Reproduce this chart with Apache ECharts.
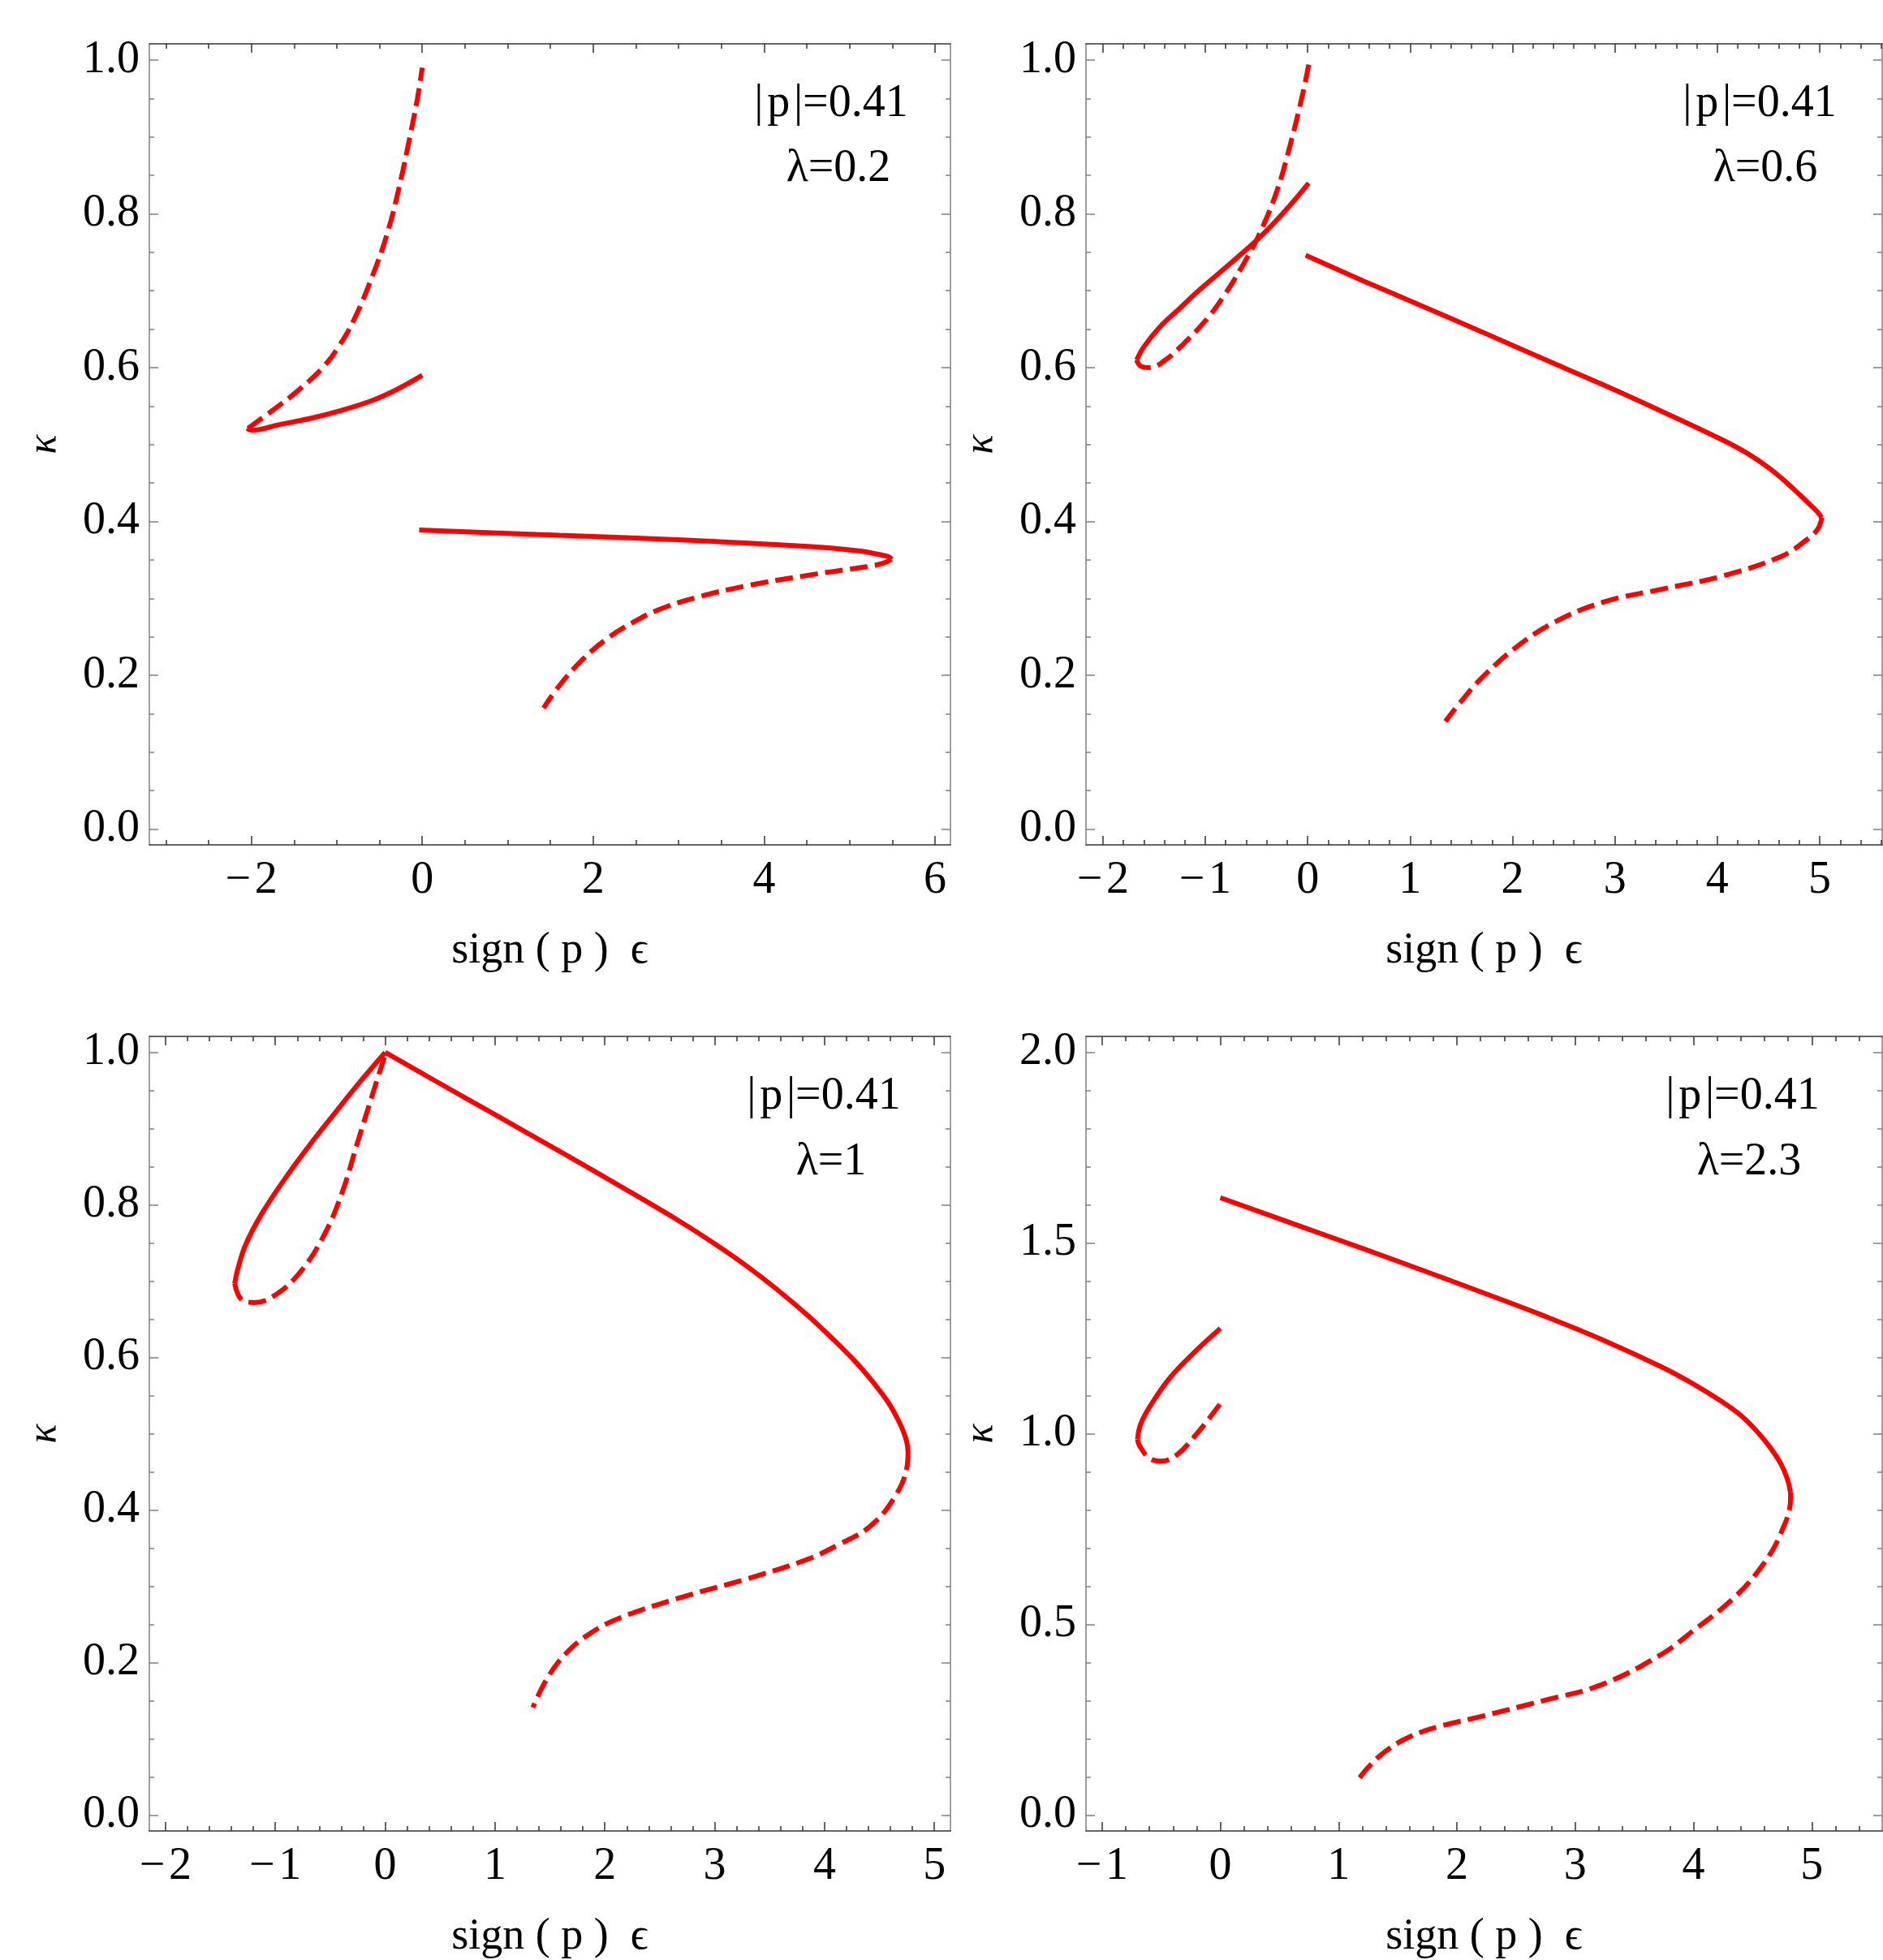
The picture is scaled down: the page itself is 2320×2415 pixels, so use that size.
<!DOCTYPE html>
<html>
<head>
<meta charset="utf-8">
<script src="https://cdn.jsdelivr.net/npm/echarts@6/dist/echarts.min.js"></script>
<style>
html, body { margin: 0; padding: 0; background: #fff; overflow: hidden; }
#chart { position: absolute; left: 0; top: 0; width: 2320px; height: 2415px; }
</style>
</head>
<body>
<div id="chart"></div>
<script>
// kappa vs sign(p) eps, |p| = 0.41, four values of lambda
// solid = one branch, dashed = the other

// lambda = 0.2
const l02SolidUp = [[-2.05,0.521],[-2.0,0.5186],[-1.67,0.526],[-1.31,0.534],[-0.945,0.5445],[-0.58,0.5575],[-0.29,0.572],[0,0.59]];
const l02DashUp = [[-2.04,0.521],[-1.745,0.545],[-1.455,0.57],[-1.164,0.6],[-0.98,0.627],[-0.8,0.662],[-0.58,0.72],[-0.4,0.778],[-0.255,0.842],[-0.145,0.9],[-0.058,0.949],[0.0,0.99]];
const l02SolidLow = [[-0.036,0.389],[1.6,0.382],[3.05,0.376],[4.51,0.3675],[5.09,0.362],[5.35,0.357],[5.46,0.354],[5.49,0.351]];
const l02DashLow = [[5.49,0.351],[5.4,0.346],[5.24,0.342],[5.0,0.338],[4.51,0.33],[3.78,0.316],[3.2,0.301],[2.76,0.285],[2.47,0.269],[2.18,0.249],[1.89,0.222],[1.6,0.186],[1.42,0.1575]];

// lambda = 0.6
const l06SolidUp = [[-1.67,0.61],[-1.6,0.627],[-1.45,0.652],[-1.25,0.677],[-1.04,0.703],[-0.75,0.736],[-0.456,0.771],[-0.22,0.804],[0.01,0.84]];
const l06DashUp = [[0.01,0.994],[-0.047,0.957],[-0.164,0.893],[-0.3,0.83],[-0.474,0.773],[-0.63,0.734],[-0.81,0.695],[-0.98,0.664],[-1.22,0.63],[-1.39,0.61],[-1.54,0.6],[-1.63,0.602],[-1.67,0.61]];
const l06SolidLow = [[-0.02,0.746],[0.54,0.713],[1.12,0.68],[1.71,0.646],[2.29,0.612],[2.88,0.578],[3.46,0.543],[4.05,0.506],[4.3,0.488],[4.51,0.469],[4.68,0.45],[4.81,0.434],[4.92,0.42],[4.98,0.412],[5.02,0.405]];
const l06DashLow = [[5.02,0.405],[4.98,0.39],[4.87,0.376],[4.63,0.355],[4.05,0.329],[3.46,0.312],[2.88,0.295],[2.41,0.269],[2.06,0.239],[1.71,0.198],[1.47,0.1615],[1.345,0.14]];

// lambda = 1
const l1SolidLeft = [[0,1.0],[-0.226,0.962],[-0.45,0.922],[-0.68,0.88],[-0.9,0.837],[-1.13,0.787],[-1.27,0.748],[-1.34,0.717],[-1.37,0.697]];
const l1DashLeft = [[-1.37,0.697],[-1.33,0.68],[-1.27,0.673],[-1.19,0.672],[-1.02,0.68],[-0.79,0.709],[-0.565,0.758],[-0.395,0.815],[-0.254,0.881],[-0.113,0.946],[0,0.997]];
const l1SolidRight = [[0,1.0],[0.452,0.963],[1.017,0.917],[1.58,0.871],[2.147,0.824],[2.71,0.776],[3.0,0.749],[3.28,0.721],[3.56,0.69],[3.84,0.656],[4.07,0.625],[4.29,0.593],[4.45,0.566],[4.58,0.541],[4.67,0.518],[4.72,0.502],[4.75,0.488],[4.76,0.476]];
const l1DashRight = [[4.76,0.476],[4.75,0.456],[4.63,0.415],[4.41,0.378],[4.12,0.354],[3.84,0.335],[3.28,0.309],[2.71,0.286],[2.147,0.259],[1.864,0.238],[1.64,0.211],[1.47,0.178],[1.345,0.141]];

// lambda = 2.3
const l23SolidLeft = [[0,1.276],[-0.218,1.214],[-0.42,1.149],[-0.572,1.083],[-0.673,1.026],[-0.7,0.985]];
const l23DashLeft = [[-0.7,0.985],[-0.684,0.969],[-0.6,0.936],[-0.5,0.928],[-0.37,0.944],[-0.218,0.993],[-0.09,1.042],[0.01,1.083]];
const l23SolidRight = [[0,1.619],[0.694,1.542],[1.2,1.486],[1.706,1.429],[2.21,1.371],[2.72,1.311],[3.225,1.247],[3.73,1.175],[4.0,1.13],[4.24,1.084],[4.4,1.048],[4.54,1.005],[4.65,0.963],[4.74,0.92],[4.79,0.884],[4.82,0.846]];
const l23DashRight = [[4.82,0.846],[4.82,0.83],[4.74,0.74],[4.59,0.658],[4.34,0.569],[3.98,0.479],[3.73,0.4216],[3.225,0.342],[2.72,0.299],[2.2,0.258],[1.85,0.232],[1.6,0.205],[1.4,0.168],[1.25,0.125],[1.16,0.09]];

// tick labels
const p1XTicks = [-2, 0, 2, 4, 6];
const p2XTicks = [-2, -1, 0, 1, 2, 3, 4, 5];
const p3XTicks = [-2, -1, 0, 1, 2, 3, 4, 5];
const p4XTicks = [-1, 0, 1, 2, 3, 4, 5];
const kTicks = [0, 0.2, 0.4, 0.6, 0.8, 1.0];
const k4Ticks = [0, 0.5, 1.0, 1.5, 2.0];

const pNote = '|\u200ap\u200a|=0.41';
const lamNotes = ['\u03bb=0.2', '\u03bb=0.6', '\u03bb=1', '\u03bb=2.3'];

const FONT = '"Liberation Serif", "DejaVu Serif", serif';
const RED = '#ff0000';
const DASH = [22, 9];

function minorTicks(min, max, step, majors) {
    let out = [];
    let start = Math.ceil(min / step - 1e-9);
    for (let k = start; k * step <= max + 1e-9; k++) {
        let v = Math.round(k * step * 1e6) / 1e6;
        if (!majors.some(m => Math.abs(m - v) < 1e-6)) out.push(v);
    }
    return out;
}

function fmtX(v) {
    return v < 0 ? '\u2212\u200a' + Math.abs(v) : String(v);
}

const panels = [
    {
        grid: {left: 184, top: 54, width: 987, height: 987},
        x: [-3.193, 6.18], y: [-0.0205, 1.021],
        xTicks: p1XTicks, xStep: 0.5, yTicks: kTicks, yStep: 0.05,
        notes: [[1024, 128], [1033, 208]],
        curves: [[l02DashUp, true], [l02SolidUp, false], [l02SolidLow, false], [l02DashLow, true]]
    },
    {
        grid: {left: 1338, top: 54, width: 981, height: 987},
        x: [-2.165, 5.61], y: [-0.0205, 1.021],
        xTicks: p2XTicks, xStep: 0.2, yTicks: kTicks, yStep: 0.05,
        notes: [[2168, 128], [2175, 208]],
        curves: [[l06DashUp, true], [l06SolidUp, false], [l06SolidLow, false], [l06DashLow, true]]
    },
    {
        grid: {left: 184, top: 1277, width: 987, height: 987},
        x: [-2.147, 5.146], y: [-0.021, 1.021],
        xTicks: p3XTicks, xStep: 0.2, yTicks: kTicks, yStep: 0.05,
        notes: [[1015, 1351], [1024, 1432]],
        curves: [[l1SolidLeft, false], [l1DashLeft, true], [l1SolidRight, false], [l1DashRight, true]]
    },
    {
        grid: {left: 1338, top: 1277, width: 981, height: 987},
        x: [-1.136, 5.595], y: [-0.042, 2.042],
        xTicks: p4XTicks, xStep: 0.2, yTicks: k4Ticks, yStep: 0.1,
        notes: [[2147, 1351], [2155, 1432]],
        curves: [[l23SolidLeft, false], [l23DashLeft, true], [l23SolidRight, false], [l23DashRight, true]]
    }
];

let option = {
    animation: false,
    backgroundColor: '#fff',
    grid: [],
    xAxis: [],
    yAxis: [],
    series: [],
    graphic: []
};

panels.forEach((p, i) => {
    option.grid.push(p.grid);
    let xMinor = minorTicks(p.x[0], p.x[1], p.xStep, p.xTicks);
    let yMinor = minorTicks(p.y[0], p.y[1], p.yStep, p.yTicks);
    let xLine = {color: '#333', width: 1.5};
    let yLine = {color: '#808080', width: 1.5};

    ['bottom', 'top'].forEach(pos => {
        let main = pos === 'bottom';
        option.xAxis.push({
            type: 'value', gridIndex: i, position: pos, min: p.x[0], max: p.x[1],
            splitLine: {show: false},
            axisLine: {show: true, onZero: false, lineStyle: xLine},
            axisTick: {show: true, inside: true, length: 11, customValues: p.xTicks, lineStyle: xLine},
            axisLabel: main ? {
                show: true, customValues: p.xTicks, formatter: fmtX, margin: 16,
                fontSize: 56, fontFamily: FONT, color: '#000'
            } : {show: false},
            name: main ? 'sign ( p )  \u03f5' : '',
            nameLocation: 'middle', nameGap: 104,
            nameTextStyle: {fontSize: 54, fontFamily: FONT, color: '#000'}
        });
        option.xAxis.push({
            type: 'value', gridIndex: i, position: pos, min: p.x[0], max: p.x[1],
            splitLine: {show: false},
            axisLine: {show: false, onZero: false},
            axisTick: {show: true, inside: true, length: 6, customValues: xMinor, lineStyle: xLine},
            axisLabel: {show: false}
        });
    });

    ['left', 'right'].forEach(pos => {
        let main = pos === 'left';
        option.yAxis.push({
            type: 'value', gridIndex: i, position: pos, min: p.y[0], max: p.y[1],
            splitLine: {show: false},
            axisLine: {show: true, onZero: false, lineStyle: yLine},
            axisTick: {show: true, inside: true, length: 11, customValues: p.yTicks, lineStyle: yLine},
            axisLabel: main ? {
                show: true, customValues: p.yTicks, formatter: v => v.toFixed(1), margin: 12,
                fontSize: 56, fontFamily: FONT, color: '#000'
            } : {show: false},
            name: main ? '\u03ba' : '',
            nameLocation: 'middle', nameGap: 104,
            nameTextStyle: {fontSize: 50, fontFamily: FONT, fontStyle: 'italic', color: '#000'}
        });
        option.yAxis.push({
            type: 'value', gridIndex: i, position: pos, min: p.y[0], max: p.y[1],
            splitLine: {show: false},
            axisLine: {show: false, onZero: false},
            axisTick: {show: true, inside: true, length: 6, customValues: yMinor, lineStyle: yLine},
            axisLabel: {show: false}
        });
    });

    p.curves.forEach(c => {
        option.series.push({
            type: 'line',
            xAxisIndex: 4 * i,
            yAxisIndex: 4 * i,
            data: c[0],
            showSymbol: false,
            smooth: 0.4,
            silent: true,
            lineStyle: {color: RED, width: 6, type: c[1] ? DASH : 'solid', cap: 'butt'}
        });
    });

    [pNote, lamNotes[i]].forEach((t, k) => {
        option.graphic.push({
            type: 'text',
            x: p.notes[k][0],
            y: p.notes[k][1],
            silent: true,
            style: {
                text: t,
                font: '56px ' + FONT,
                fill: '#000',
                textAlign: 'center',
                textVerticalAlign: 'middle',
                align: 'center',
                verticalAlign: 'middle'
            }
        });
    });
});

let chart = echarts.init(document.getElementById('chart'));
chart.setOption(option);
</script>
</body>
</html>
